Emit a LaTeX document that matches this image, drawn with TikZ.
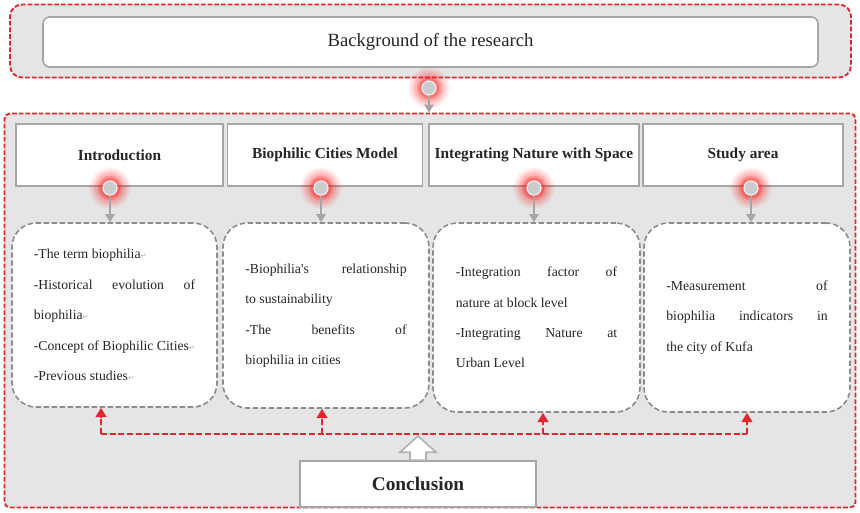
\documentclass[tikz,border=0pt]{standalone}
\usepackage{fontspec}
\setmainfont{Liberation Serif}
\newfontfamily\symfont{DejaVu Sans}
\usetikzlibrary{arrows.meta,calc}
\definecolor{frameRed}{HTML}{E3262E}
\newcommand\retmark{{\symfont\fontsize{5.5}{6}\selectfont\color{gray!60}↵}}
\hbadness=10000

\begin{document}
\begin{tikzpicture}[x=0.75pt,y=-0.75pt,
 outer/.style={draw=frameRed,line width=1.4pt,dash pattern=on 3.5pt off 1.5pt,fill=gray!20},
 plain/.style={draw=gray!70,line width=1.2pt,fill=white,text=black!85},
 hdr/.style={plain,font=\fontsize{11.5}{13}\selectfont\bfseries,minimum height=46.5pt},
 notebox/.style={draw=gray!90,line width=1.2pt,dash pattern=on 4pt off 2pt,fill=white,rounded corners=18pt,
   text width=121pt,align=justify,text=black!85,font=\fontsize{10.3}{22.8}\selectfont},
 knob/.style={circle,minimum size=10.5pt,inner sep=0pt,fill=gray!40,draw=gray!12,line width=0.9pt,
   preaction={draw=red,opacity=0.07,line width=20pt},
   preaction={draw=red,opacity=0.1,line width=16pt},
   preaction={draw=red,opacity=0.13,line width=12pt},
   preaction={draw=red,opacity=0.18,line width=8pt},
   preaction={draw=red,opacity=0.25,line width=5pt}},
 graylink/.style={draw=gray!70,line width=1.2pt,-{Triangle[width=7pt,length=6pt]}},
 redlink/.style={draw=frameRed,line width=1.5pt,dash pattern=on 4.5pt off 2pt},
 hollow/.style={draw=gray!60,line width=1.2pt,fill=white}]
\useasboundingbox (0,0) rectangle (860,512);
% background
\node[outer,rounded corners=9pt,minimum width=630.75pt,minimum height=54.75pt] (bgframe) at (430.5,41) {};
\node[plain,rounded corners=5pt,minimum width=581.25pt,minimum height=37.5pt,font=\fontsize{14}{16}\selectfont] (bg) at (430.5,42) {Background of the research};
\node[outer,rounded corners=4pt,minimum width=638.25pt,minimum height=295.5pt] (main) at (430,310.5) {};
\node[knob] (k0) at (429,88) {};
\draw[graylink] (k0) -- (k0 |- main.north);
% headers
\node[hdr,minimum width=155.25pt] (h1) at (119.5,155) {Introduction};
\node[hdr,minimum width=146.25pt] (h2) at (325,155) {Biophilic Cities Model};
\node[hdr,minimum width=157.5pt] (h3) at (534,155) {Integrating Nature with Space};
\node[hdr,minimum width=150pt] (h4) at (743,155) {Study area};
% contents
\node[notebox,minimum width=153.75pt,minimum height=138pt] (d1) at (114.5,315) {-The term biophilia\retmark\par
 -Historical evolution of\linebreak biophilia\retmark\par
 -Concept of Biophilic Cities\retmark\par
 -Previous studies\retmark};
\node[notebox,minimum width=154.5pt,minimum height=138.75pt] (d2) at (326,315.5) {-Biophilia\textquotesingle s relationship\linebreak to sustainability\par
 -The benefits of\linebreak biophilia in cities};
\node[notebox,minimum width=155.25pt,minimum height=141.75pt] (d3) at (536.5,317.5) {-Integration factor of\linebreak nature at block level\par
 -Integrating Nature at\linebreak Urban Level};
\node[notebox,minimum width=154.5pt,minimum height=141.75pt] (d4) at (747,317.5) {-Measurement of\linebreak biophilia indicators in\linebreak the city of Kufa};
% knobs
\node[knob] (k1) at (110,188) {};
\node[knob] (k2) at (321,188) {};
\node[knob] (k3) at (534,188) {};
\node[knob] (k4) at (751,188) {};
\draw[graylink] (k1) -- (k1 |- d1.north);
\draw[graylink] (k2) -- (k2 |- d2.north);
\draw[graylink] (k3) -- (k3 |- d3.north);
\draw[graylink] (k4) -- (k4 |- d4.north);
% conclusion
\node[plain,minimum width=177pt,minimum height=34.5pt,font=\fontsize{14.5}{16}\selectfont\bfseries] (concl) at (418,484) {Conclusion};
\coordinate (j1) at (101,434);
\coordinate (j2) at (322,434);
\coordinate (j3) at (543,434);
\coordinate (j4) at (747,434);
\coordinate (jm) at (418,436);
\draw[redlink] (j1) -- (j4);
\draw[redlink,-{Triangle[width=8pt,length=7pt]}] (j1) -- (j1 |- d1.south);
\draw[redlink,-{Triangle[width=8pt,length=7pt]}] (j2) -- (j2 |- d2.south);
\draw[redlink,-{Triangle[width=8pt,length=7pt]}] (j3) -- (j3 |- d3.south);
\draw[redlink,-{Triangle[width=8pt,length=7pt]}] (j4) -- (j4 |- d4.south);
\draw[hollow] ($(concl.north)+(-8,0)$) -- ++(0,-8) -- ++(-10,0) -- (jm) -- ($(concl.north)+(18,-8)$) -- ++(-10,0) -- ++(0,8) -- cycle;
\end{tikzpicture}
\end{document}
